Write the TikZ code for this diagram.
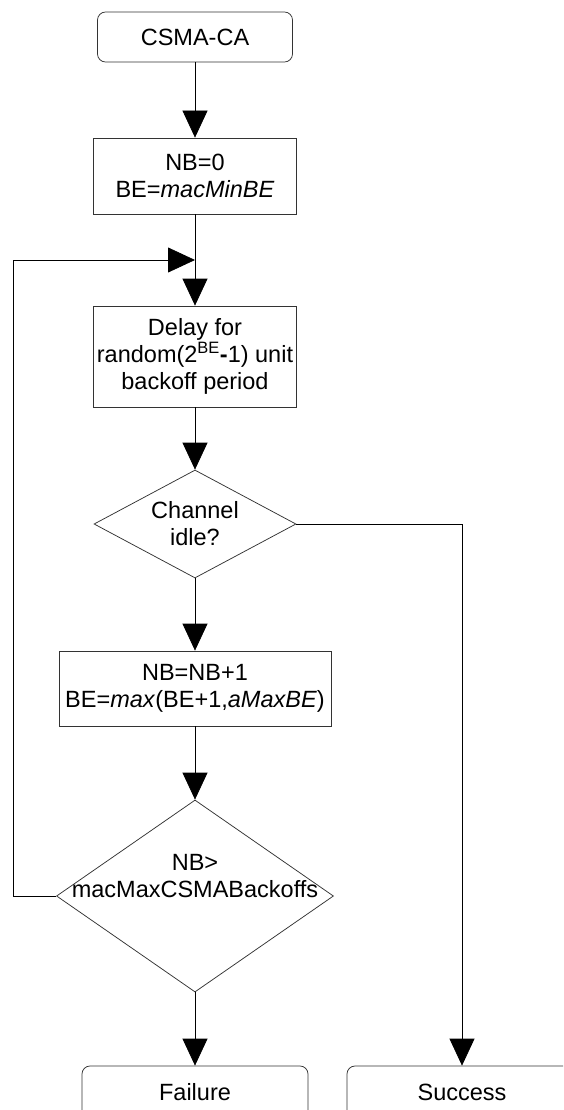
\documentclass[tikz,border=0pt]{standalone}
\usepackage{fontspec}
\setmainfont{Liberation Sans}
\usetikzlibrary{shapes.geometric,arrows.meta}

\tikzset{every picture/.style={line width=0.75pt}}
\tikzset{
  txt/.style={font=\fontsize{23.5}{27}\selectfont, align=center, inner sep=0pt},
  procbox/.style={draw=black!80, rectangle, inner sep=0pt},
  termbox/.style={draw=black!80, rectangle, rounded corners=8pt, inner sep=0pt},
  decision/.style={draw=black!80, diamond, inner sep=0pt},
  flow/.style={-{Triangle[width=25pt,length=27pt]}}
}

\begin{document}
\begin{tikzpicture}[x=1pt,y=1pt,yscale=-1,xscale=1]
	\clip (0,0) rectangle (563,1110);

	%Shape: Rounded Rect [id:start]
	\node [termbox, minimum width=195pt, minimum height=50pt] (start) at (195,37) {};
	%Shape: Rectangle [id:init]
	\node [procbox, minimum width=203pt, minimum height=76pt] (init) at (195,176) {};
	%Shape: Rectangle [id:delay]
	\node [procbox, minimum width=203pt, minimum height=101pt] (delay) at (195,356.5) {};
	%Shape: Diamond [id:idle]
	\node [decision, minimum width=202pt, minimum height=108pt] (idle) at (195,524) {};
	%Shape: Rectangle [id:incr]
	\node [procbox, minimum width=272pt, minimum height=75pt] (incr) at (195,688.5) {};
	%Shape: Diamond [id:check]
	\node [decision, minimum width=277pt, minimum height=192pt] (check) at (195,896) {};
	%Shape: Rounded Rect [id:fail]
	\node [termbox, minimum width=226pt, minimum height=52pt] (fail) at (195,1092) {};
	%Shape: Rounded Rect [id:succ]
	\node [termbox, minimum width=230pt, minimum height=52pt] (succ) at (462,1092) {};

	% corner points of the back loop
	\coordinate (loop) at (13,260);
	\coordinate (join) at (195,260);

	%Straight Lines
	\draw [flow] (start) -- (init);
	\draw [flow] (init) -- (delay);
	\draw [flow] (delay) -- (idle);
	\draw [flow] (idle) -- (incr);
	\draw [flow] (incr) -- (check);
	\draw [flow] (check) -- (fail);
	%Back loop
	\draw [flow] (check.west) -| (loop) -- (join);
	%Success branch
	\draw [flow] (idle.east) -| (succ.north);

	% Text Node
	\node [txt] (startlbl) at (start) {CSMA-CA};
	% Text Node
	\node [txt] (initlbl) at (init) {NB=0\\BE=\textit{macMinBE}};
	% Text Node
	\node [txt] (delaylbl) at (delay) {Delay for\\random(2\textsuperscript{BE}\textbf{-}1) unit\\backoff period};
	% Text Node
	\node [txt] (idlelbl) at (idle) {Channel\\idle?};
	% Text Node
	\node [txt] (incrlbl) at (incr) {NB=NB+1\\BE=\textit{max}(BE+1,\textit{aMaxBE})};
	% Text Node
	\node [txt] (checklbl) at (195,876) {NB>\\macMaxCSMABackoffs};
	% Text Node
	\node [txt] (faillbl) at (fail) {Failure};
	% Text Node
	\node [txt] (succlbl) at (succ) {Success};

\end{tikzpicture}
\end{document}
